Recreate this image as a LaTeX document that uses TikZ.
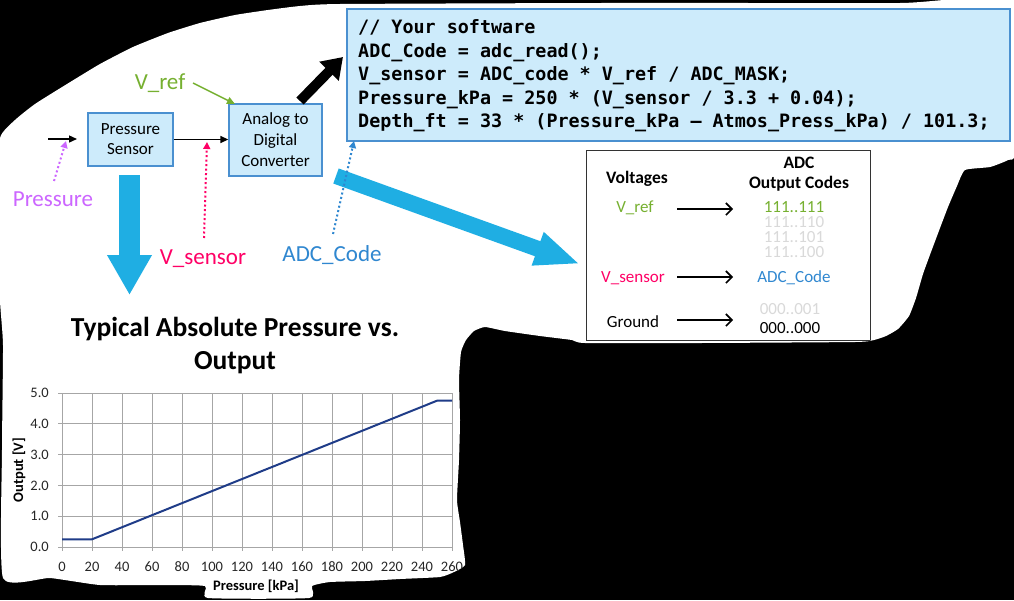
\documentclass[tikz,border=0pt]{standalone}
\usepackage{fontspec}
\setmainfont{Carlito}
\newfontfamily\codefont{DejaVu Sans Mono}
\usetikzlibrary{arrows.meta}
\definecolor{boxfill}{HTML}{CDEBFB}
\definecolor{boxline}{HTML}{4A90D0}
\definecolor{vrefgreen}{HTML}{76B030}
\definecolor{pressviolet}{HTML}{CC66FF}
\definecolor{vsenspink}{HTML}{FF0066}
\definecolor{adcblue}{HTML}{2F87D0}
\definecolor{bigblue}{HTML}{1FAEE3}
\definecolor{codegray}{HTML}{D9D9D9}
\definecolor{gridgray}{HTML}{A6A6A6}
\definecolor{plotnavy}{HTML}{1F3C88}
\begin{document}
\begin{tikzpicture}[x=1pt,y=-1pt,
  blockbox/.style={draw=boxline, fill=boxfill, line width=1.3pt, align=center, inner sep=0pt},
  thinarrow/.style={line width=1.4pt, -{Triangle[length=8pt,width=7pt]}},
  dotarrow/.style={line width=2pt, dash pattern=on 2pt off 2.5pt, -{Triangle[length=7pt,width=7pt]}},
  lbl/.style={inner sep=0pt, text height=15pt, text depth=0pt, font=\fontsize{23}{26}\selectfont},
  codeline/.style={anchor=base west, inner sep=0pt, font=\codefont\bfseries\fontsize{18.4}{22}\selectfont},
  tabtext/.style={inner sep=0pt, text height=11pt, text depth=0pt, font=\fontsize{17}{20}\selectfont},
  tabbold/.style={inner sep=0pt, align=center, font=\bfseries\fontsize{17.5}{20}\selectfont},
  tabarrow/.style={line width=1.6pt, -{Straight Barb[length=6pt,width=12pt]}},
  ticklbl/.style={inner sep=0pt, text height=9.5pt, text depth=0pt, font=\fontsize{14.5}{16}\selectfont, text=black!85},
  axistitle/.style={inner sep=0pt, font=\bfseries\fontsize{14.5}{16}\selectfont},
  gridline/.style={draw=gridgray, line width=1pt}
]
\useasboundingbox (0,0) rectangle (1014,600);
\fill[black] (0,0) rectangle (1014,600);
\fill[white] plot[smooth cycle, tension=0.3] coordinates {(0,138) (15,120) (35,104) (67,84) (100,64) (133,47) (168,33) (200,23) (235,15) (268,10) (300,6) (340,4) (600,3) (900,3) (1016,2) (1016,150) (1008,160) (990,167) (965,170) (957,186) (948,207) (940,228) (931,252) (923,274) (916,298) (909,316) (898,329) (886,336) (874,340) (855,342) (700,343) (585,343) (572,340) (540,336) (505,331) (485,327) (474,331) (466,340) (461,352) (459,380) (460,420) (459,460) (457,500) (460,522) (463,545) (465,565) (454,572) (440,577) (400,579) (365,581) (330,582) (312,586) (309,598) (208,598) (205,586) (160,585) (100,585) (50,578) (3,578) (2,450) (3,345) (0,300) (-2,200)};
\begin{scope}
\clip plot[smooth cycle, tension=0.3] coordinates {(0,138) (15,120) (35,104) (67,84) (100,64) (133,47) (168,33) (200,23) (235,15) (268,10) (300,6) (340,4) (600,3) (900,3) (1016,2) (1016,150) (1008,160) (990,167) (965,170) (957,186) (948,207) (940,228) (931,252) (923,274) (916,298) (909,316) (898,329) (886,336) (874,340) (855,342) (700,343) (585,343) (572,340) (540,336) (505,331) (485,327) (474,331) (466,340) (461,352) (459,380) (460,420) (459,460) (457,500) (460,522) (463,545) (465,565) (454,572) (440,577) (400,579) (365,581) (330,582) (312,586) (309,598) (208,598) (205,586) (160,585) (100,585) (50,578) (3,578) (2,450) (3,345) (0,300) (-2,200)};

% blocks
\node[blockbox, minimum width=85pt, minimum height=53pt, font=\fontsize{17}{20}\selectfont] (sensor) at (130.5,139.5) {Pressure\\Sensor};
\node[blockbox, minimum width=93pt, minimum height=72pt, font=\fontsize{17}{21}\selectfont] (adc) at (275.5,140) {Analog to\\Digital\\Converter};
\node[blockbox, minimum width=663pt, minimum height=132pt] (code) at (678.5,75) {};
\node[codeline] (code1) at (358,33) {// Your software};
\node[codeline] (code2) at (358,57) {ADC\_Code = adc\_read();};
\node[codeline] (code3) at (358,80) {V\_sensor = ADC\_code * V\_ref / ADC\_MASK;};
\node[codeline] (code4) at (358,104) {Pressure\_kPa = 250 * (V\_sensor / 3.3 + 0.04);};
\node[codeline] (code5) at (358,127) {Depth\_ft = 33 * (Pressure\_kPa – Atmos\_Press\_kPa) / 101.3;};

% big arrows
\coordinate (bbTail) at (300,101);
\coordinate (bbHead) at (343,57);
\draw[black, line width=10pt, -{Triangle[length=20pt,width=26pt]}] (bbTail) -- (bbHead);
\coordinate (dTail) at (129.5,175);
\coordinate (dHead) at (129.5,295);
\draw[bigblue, line width=21pt, -{Triangle[length=40pt,width=42pt]}] (dTail) -- (dHead);
\coordinate (tTail) at (336,176);
\coordinate (tHead) at (580,264);

% labels
\node[lbl, text=vrefgreen] (vref) at (160,82) {V\_ref};
\node[lbl, text=pressviolet] (press) at (53,199) {Pressure};
\node[lbl, text=vsenspink] (vsens) at (203,257) {V\_sensor};
\node[lbl, text=adcblue] (adccode) at (332,254) {ADC\_Code};

% thin arrows
\coordinate (inS) at (48,139);
\coordinate (inE) at (77,139);
\draw[thinarrow] (inS) -- (inE);
\draw[thinarrow] (sensor.east) -- (sensor.east -| adc.west);
\coordinate (vrA) at (193,83);
\coordinate (vrB) at (235,104);
\draw[vrefgreen, line width=1.5pt, -{Triangle[length=8pt,width=7pt]}] (vrA) -- (vrB);
\coordinate (prA) at (54,181);
\coordinate (prB) at (66,141);
\draw[dotarrow, pressviolet] (prA) -- (prB);
\coordinate (vsA) at (204,238);
\coordinate (vsB) at (207,142);
\draw[dotarrow, vsenspink] (vsA) -- (vsB);

% big blue diagonal arrow, then dotted ADC_Code arrow on top
\draw[bigblue, line width=16pt, -{Triangle[length=45pt,width=32pt]}] (tTail) -- (tHead);
\coordinate (acA) at (333,234);
\coordinate (acB) at (354,141);
\draw[dotarrow, adcblue] (acA) -- (acB);

% ADC table
\node[draw=black!80, line width=1pt, minimum width=284pt, minimum height=190pt, inner sep=0pt] (tbl) at (728,245) {};
\node[tabbold] (volt) at (637,179) {Voltages};
\node[tabbold] (adch) at (799,174) {ADC\\Output Codes};
\node[tabtext, text=vrefgreen] (tvref) at (635,207) {V\_ref};
\node[tabtext, text=vrefgreen] (c1) at (794,207) {111..111};
\node[tabtext, text=codegray] (c2) at (794,222) {111..110};
\node[tabtext, text=codegray] (c3) at (794,237) {111..101};
\node[tabtext, text=codegray] (c4) at (794,252) {111..100};
\node[tabtext, text=vsenspink] (tvs) at (633,277) {V\_sensor};
\node[tabtext, text=adcblue] (tadc) at (794,277) {ADC\_Code};
\node[tabtext, text=codegray] (c5) at (790,309) {000..001};
\node[tabtext] (tgnd) at (633,322) {Ground};
\node[tabtext] (c6) at (790,328) {000..000};
\coordinate (ta1) at (677,209); \coordinate (tb1) at (733,209);
\coordinate (ta2) at (677,277); \coordinate (tb2) at (733,277);
\coordinate (ta3) at (677,320); \coordinate (tb3) at (733,320);
\draw[tabarrow] (ta1) -- (tb1);
\draw[tabarrow] (ta2) -- (tb2);
\draw[tabarrow] (ta3) -- (tb3);

% chart
\node[inner sep=0pt, align=center, font=\bfseries\fontsize{27.5}{33}\selectfont] (title) at (235,346) {Typical Absolute Pressure vs.\\Output};
\foreach \i in {0,...,13} \draw[gridline] ({62+30*\i},393) -- ({62+30*\i},551);
\foreach \j in {0,...,5} \draw[gridline] (58,{547-30.8*\j}) -- (452,{547-30.8*\j});
\foreach \v [count=\i from 0] in {0,20,40,60,80,100,120,140,160,180,200,220,240,260}
  \node[ticklbl] (xt\i) at ({62+30*\i},567) {\v};
\foreach \v [count=\j from 0] in {0.0,1.0,2.0,3.0,4.0,5.0}
  \node[ticklbl, anchor=east] (yt\j) at (49,{547-30.8*\j}) {\v};
\draw[plotnavy, line width=2pt, line join=round] (62,539.3) -- (92,539.3) -- (437,400.7) -- (452,400.7);
\node[axistitle] (xtitle) at (256,586) {Pressure [kPa]};
\node[axistitle, rotate=90] (ytitle) at (19,470) {Output [V]};
\end{scope}
\end{tikzpicture}
\end{document}
